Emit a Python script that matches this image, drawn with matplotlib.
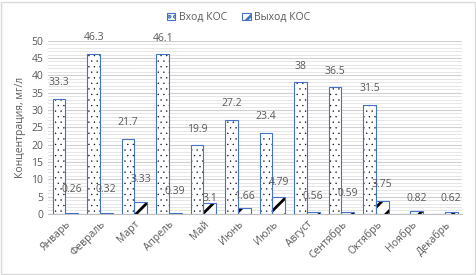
import matplotlib
matplotlib.use("Agg")
import matplotlib.pyplot as plt
import numpy as np
from matplotlib.ticker import MultipleLocator
from matplotlib.patches import Patch

months = ["Январь", "Февраль", "Март", "Апрель", "Май", "Июнь", "Июль",
          "Август", "Сентябрь", "Октябрь", "Ноябрь", "Декабрь"]
inlet = [33.3, 46.3, 21.7, 46.1, 19.9, 27.2, 23.4, 38, 36.5, 31.5, 0, 0]
outlet = [0.26, 0.32, 3.33, 0.39, 3.1, 1.66, 4.79, 0.56, 0.59, 3.75, 0.82, 0.62]
inlet_labels = ["33.3", "46.3", "21.7", "46.1", "19.9", "27.2", "23.4", "38", "36.5", "31.5", "", ""]
outlet_labels = ["0.26", "0.32", "3.33", "0.39", "3.1", "1.66", "4.79", "0.56", "0.59", "3.75", "0.82", "0.62"]
# label placement offsets (layout only)
outlet_label_offsets = [6.7, 6.7, 6.5, 6.0, 1.5, 3.3, 4.4, 4.4, 5.2, 4.7, 3.6, 3.8]

plt.rcParams['font.family'] = ['Open Sans', 'DejaVu Sans']
blue = "#4472C4"
gray = "#595959"

fig = plt.figure(figsize=(4.77, 2.75), dpi=100)
ax = fig.add_axes([0.101, 0.222, 0.868, 0.63])

x = np.arange(len(months))
w = 0.365
plt.rcParams['hatch.linewidth'] = 0.2
# inlet bars: dotted hatch
ax.bar(x - w / 2, inlet, w, color="white", edgecolor="black", hatch="...", linewidth=0, zorder=2)
ax.bar(x - w / 2, inlet, w, color="none", edgecolor=blue, linewidth=0.8, zorder=3)
# outlet bars: thick diagonal hatch
plt.rcParams['hatch.linewidth'] = 2.0
ax.bar(x + w / 2, outlet, w, color="white", edgecolor="black", hatch="//", linewidth=0, zorder=2)
ax.bar(x + w / 2, outlet, w, color="none", edgecolor=blue, linewidth=0.8, zorder=3)

for xi, v, lab in zip(x, inlet, inlet_labels):
    if lab:
        ax.text(xi - w / 2, v + 4.6, lab, ha="center", va="center", fontsize=7.5, color=gray)
for xi, v, lab, off in zip(x, outlet, outlet_labels, outlet_label_offsets):
    ax.text(xi + w / 2, v + off, lab, ha="center", va="center", fontsize=7.5, color=gray)

ax.set_xlim(-0.5, len(months) - 0.5)
ax.set_ylim(0, 50)
ax.yaxis.set_major_locator(MultipleLocator(5))
ax.yaxis.set_minor_locator(MultipleLocator(1))
ax.grid(axis="y", which="major", color="#D0D0D0", linewidth=0.8, zorder=0)
ax.grid(axis="y", which="minor", color="#E6E6E6", linewidth=0.7, zorder=0)
ax.set_axisbelow(True)
for s in ["top", "right", "left"]:
    ax.spines[s].set_visible(False)
ax.spines["bottom"].set_color("#BFBFBF")
ax.tick_params(axis="both", which="both", length=0, colors=gray, labelsize=7.5)
ax.set_xticks(x)
ax.set_xticklabels(months, rotation=45, ha="right", rotation_mode="anchor")
ax.set_ylabel("Концентрация, мг/л", fontsize=7.5, color=gray)

h1 = Patch(facecolor="white", edgecolor=blue, hatch="...", linewidth=0.8)
h2 = Patch(facecolor="white", edgecolor=blue, hatch="//", linewidth=0.8)
leg = fig.legend([h1, h2], ["Вход КОС", "Выход КОС"], loc="upper center",
                 bbox_to_anchor=(0.5, 0.99), ncol=2, frameon=False, fontsize=7.5,
                 handlelength=0.8, handleheight=0.8, columnspacing=1.5, handletextpad=0.3)
for t in leg.get_texts():
    t.set_color(gray)

fig.patches.append(plt.Rectangle((0.002, 0.004), 0.994, 0.99, transform=fig.transFigure,
                                 fill=False, edgecolor="#D9D9D9", linewidth=1))
fig.savefig("out.png", dpi=100)
